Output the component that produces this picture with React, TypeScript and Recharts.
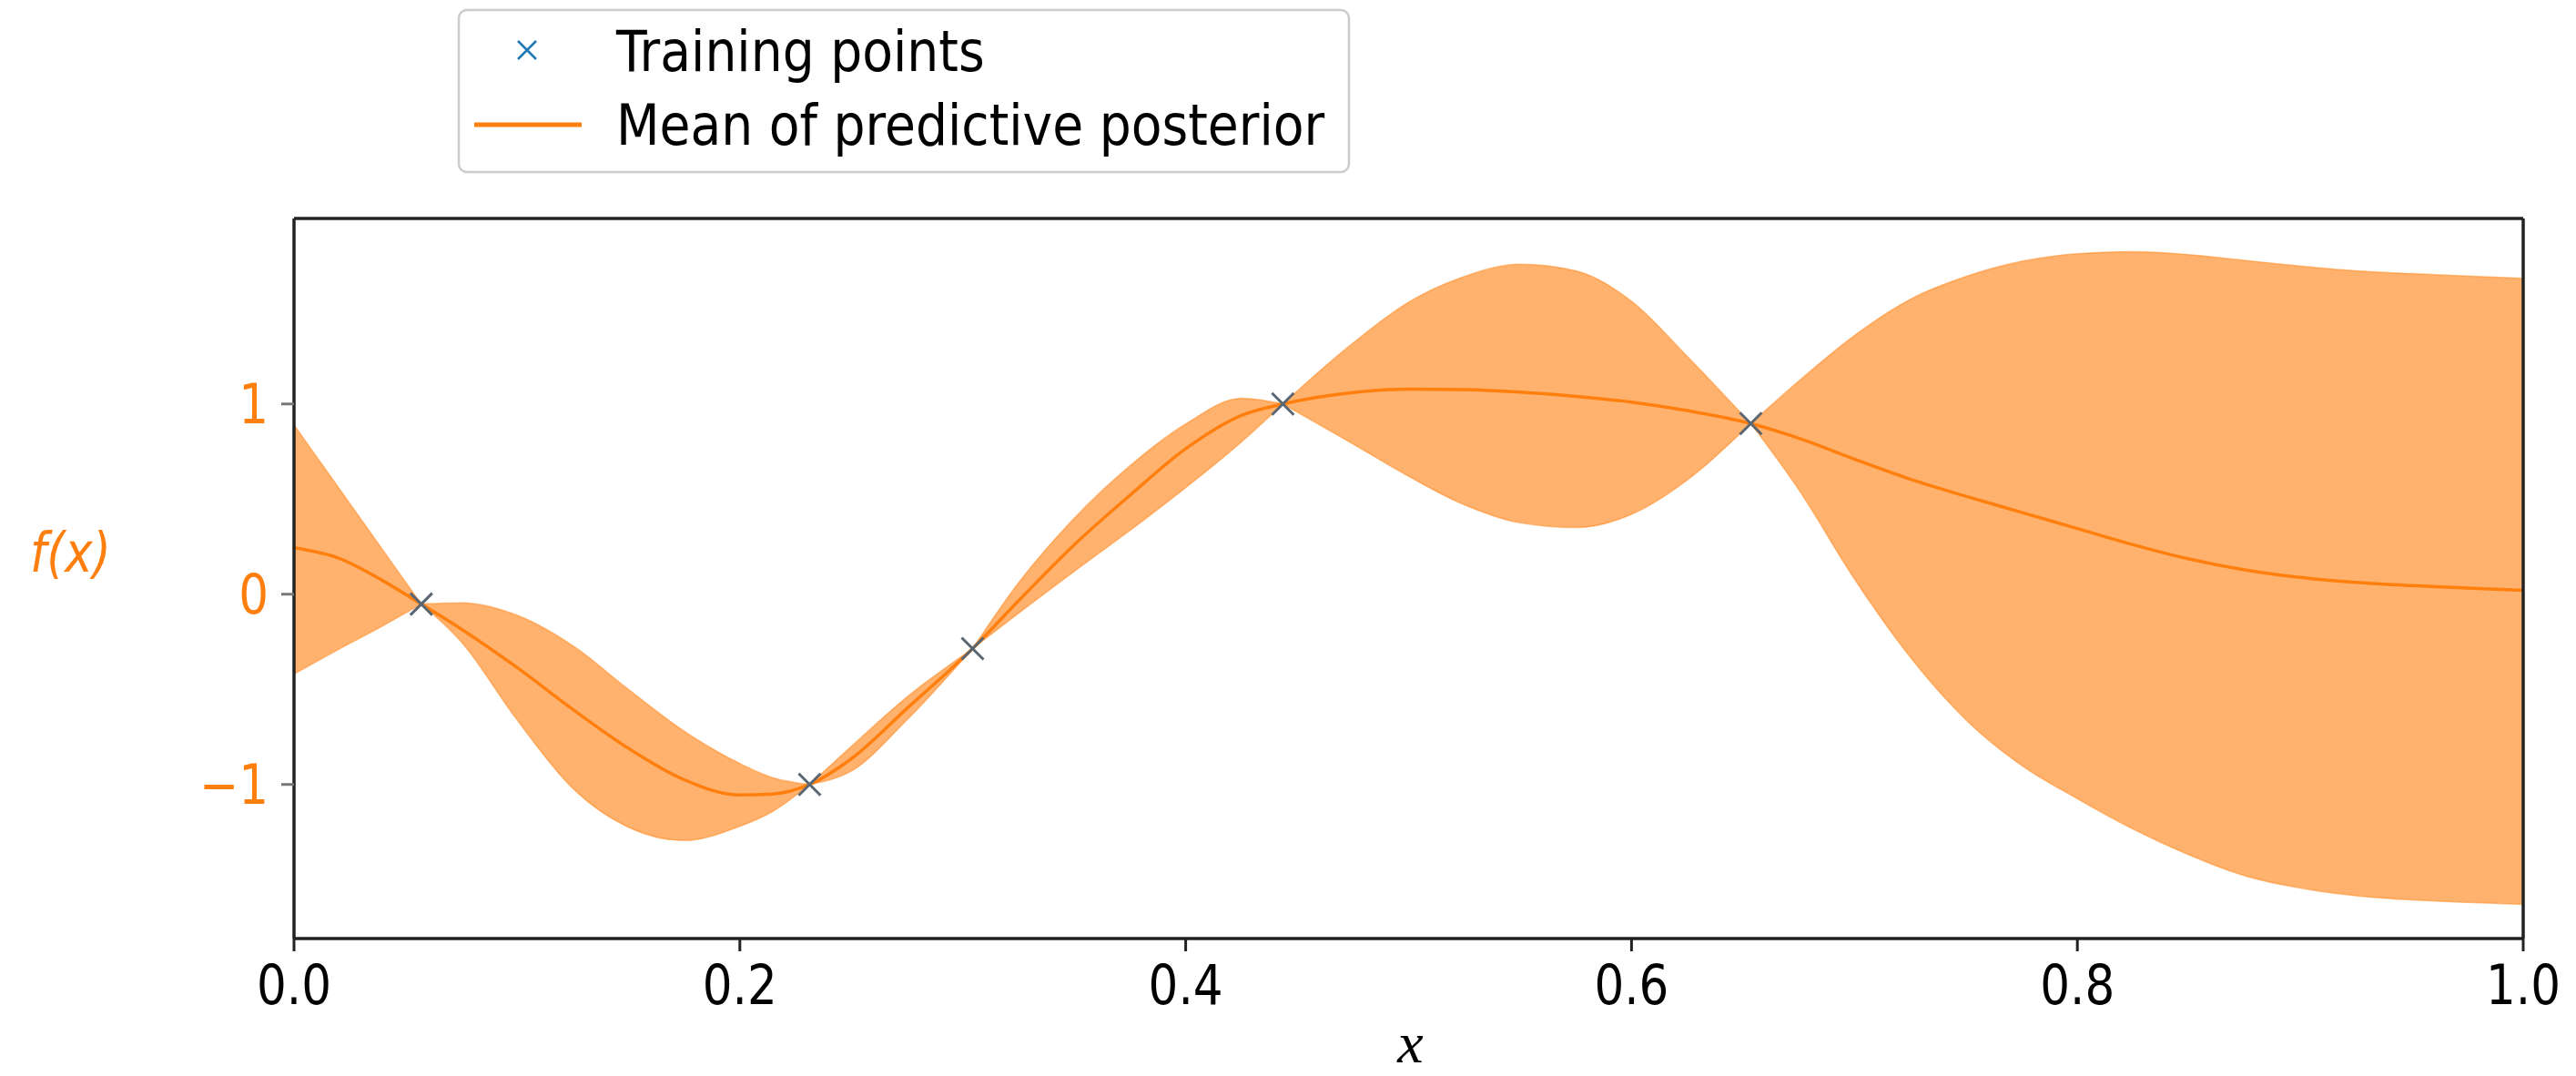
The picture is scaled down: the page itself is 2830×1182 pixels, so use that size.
import React from "react";
import { Area, ComposedChart, Legend, Line, ReferenceLine, Scatter, XAxis, YAxis } from "recharts";

// sample positions along x (training inputs included so the band pinches there)
const xs = [
  0, 0.02, 0.04, 0.0571, 0.075, 0.1, 0.125, 0.15, 0.175, 0.2, 0.215, 0.2313, 0.25, 0.275, 0.3044,
  0.325, 0.35, 0.375, 0.4, 0.425, 0.4436, 0.475, 0.5, 0.525, 0.55, 0.575, 0.6, 0.625, 0.6535,
  0.675, 0.7, 0.725, 0.75, 0.775, 0.8, 0.825, 0.85, 0.875, 0.9, 0.925, 0.95, 0.975, 1.0,
];
const meanVals = [
  0.244, 0.19, 0.07, -0.052, -0.183, -0.385, -0.605, -0.81, -0.975, -1.055, -1.05, -1.0, -0.865, -0.6, -0.286,
  -0.035, 0.26, 0.52, 0.765, 0.94, 1.0, 1.06, 1.078, 1.075, 1.062, 1.04, 1.01, 0.965, 0.897,
  0.82, 0.71, 0.605, 0.515, 0.43, 0.345, 0.26, 0.185, 0.128, 0.088, 0.062, 0.045, 0.032, 0.02,
];
const lowerVals = [
  -0.42, -0.29, -0.165, -0.052, -0.25, -0.66, -1.02, -1.225, -1.295, -1.22, -1.14, -1.0, -0.93, -0.66, -0.286,
  -0.1, 0.12, 0.335, 0.56, 0.8, 1.0, 0.79, 0.62, 0.47, 0.375, 0.35, 0.42, 0.6, 0.897,
  0.55, 0.08, -0.33, -0.66, -0.9, -1.075, -1.235, -1.37, -1.48, -1.545, -1.585, -1.607, -1.62, -1.63,
];
const upperVals = [
  0.89, 0.56, 0.23, -0.052, -0.045, -0.11, -0.27, -0.5, -0.72, -0.89, -0.965, -1.0, -0.8, -0.54, -0.286,
  0.06, 0.4, 0.675, 0.895, 1.03, 1.0, 1.32, 1.535, 1.67, 1.735, 1.7, 1.54, 1.25, 0.897,
  1.12, 1.36, 1.55, 1.67, 1.75, 1.79, 1.8, 1.785, 1.755, 1.725, 1.7, 1.685, 1.672, 1.66,
];

const trainX = [0.0571, 0.2313, 0.3044, 0.4436, 0.6535];
const trainY = [-0.052, -1.0, -0.286, 1.0, 0.897];

const xTicks = [0, 0.2, 0.4, 0.6, 0.8, 1.0];
const yTicks = [-1, 0, 1];
const yDomain = [-1.81, 1.975];

const ORANGE = "#ff7f0e";
const BLUE = "#1f77b4";
const FONT = "DejaVu Sans";
const SQUEEZE = 0.86;
const LEGEND_SQUEEZE = 0.89;

// the band is split at every training input (a null row between) so each piece keeps its own kink
const data: any[] = [];
xs.forEach((x, i) => {
  const band = [lowerVals[i], upperVals[i]];
  data.push({ x, mean: meanVals[i], band });
  if (trainX.includes(x)) {
    data.push({ x, band: null });
    data.push({ x, band });
  }
});
const trainData = trainX.map((x, i) => ({ x, y: trainY[i] }));

function XTick({ x, y, payload }: any) {
  return (
    <g transform={`translate(${x},${y}) scale(${SQUEEZE},1)`}>
      <text x={0} y={44} textAnchor="middle" fontFamily={FONT} fontSize={60} fill="#000">
        {Number(payload.value).toFixed(1)}
      </text>
    </g>
  );
}

function YTick({ x, y, payload }: any) {
  const v = Number(payload.value);
  return (
    <g transform={`translate(${x},${y}) scale(${SQUEEZE},1)`}>
      <text x={0} y={21} textAnchor="end" fontFamily={FONT} fontSize={60} fill={ORANGE}>
        {v < 0 ? `\u2212${Math.abs(v)}` : String(v)}
      </text>
    </g>
  );
}

function YLabel({ viewBox }: any) {
  const vb = viewBox || { x: 0, y: 240, height: 791 };
  return (
    <g transform={`translate(${vb.x + 33},${vb.y + vb.height / 2 - 8}) scale(${SQUEEZE},1)`}>
      <text x={0} y={0} fontFamily={FONT} fontStyle="italic" fontSize={60} fill={ORANGE}>
        f(x)
      </text>
    </g>
  );
}

function XLabel({ viewBox }: any) {
  const vb = viewBox || { x: 323, y: 1031, width: 2449 };
  return (
    <text
      x={vb.x + vb.width / 2 + 2}
      y={vb.y + 136}
      textAnchor="middle"
      fontFamily="Liberation Serif"
      fontStyle="italic"
      fontSize={64}
      fill="#000"
    >
      x
    </text>
  );
}

function Cross({ cx, cy }: any) {
  const r = 12;
  return (
    <path
      d={`M${cx - r},${cy - r}L${cx + r},${cy + r}M${cx - r},${cy + r}L${cx + r},${cy - r}`}
      stroke="#5b6673"
      strokeWidth={3}
      fill="none"
    />
  );
}

function LegendBox() {
  return (
    <svg width={984} height={184} style={{ display: "block" }}>
      <rect x={2} y={2} width={978} height={178} rx={9} fill="#fff" stroke="#cccccc" strokeWidth={2.5} />
      <path d="M67,36L87,56M67,56L87,36" stroke={BLUE} strokeWidth={2.5} />
      <line x1={19} x2={137} y1={128} y2={128} stroke={ORANGE} strokeWidth={5} />
      <g transform={`translate(175,69) scale(${LEGEND_SQUEEZE},1)`}>
        <text fontFamily={FONT} fontSize={62} fill="#000">Training points</text>
      </g>
      <g transform={`translate(175,150) scale(${LEGEND_SQUEEZE},1)`}>
        <text fontFamily={FONT} fontSize={62} fill="#000">Mean of predictive posterior</text>
      </g>
    </svg>
  );
}

export default function App() {
  return (
    <div style={{ position: "absolute", left: 0, top: 0, width: 2830, height: 1182, background: "#fff" }}>
      <ComposedChart
        width={2830}
        height={1182}
        data={data}
        margin={{ top: 240, right: 58, bottom: 0, left: 0 }}
      >
        <XAxis
          dataKey="x"
          type="number"
          domain={[0, 1]}
          ticks={xTicks}
          allowDataOverflow
          height={151}
          tickSize={14}
          tickMargin={14}
          tick={<XTick />}
          tickLine={{ stroke: "#222", strokeWidth: 3 }}
          axisLine={{ stroke: "#222", strokeWidth: 3.5 }}
          label={<XLabel />}
        />
        <YAxis
          type="number"
          domain={yDomain}
          ticks={yTicks}
          allowDataOverflow
          width={323}
          tickSize={14}
          tickMargin={14}
          tick={<YTick />}
          tickLine={{ stroke: "#777", strokeWidth: 3 }}
          axisLine={{ stroke: "#222", strokeWidth: 3.5 }}
          label={<YLabel />}
        />
        <Scatter data={trainData} dataKey="y" shape={<Cross />} isAnimationActive={false} />
        <Area
          dataKey="band"
          type="monotone"
          fill={ORANGE}
          fillOpacity={0.6}
          stroke={ORANGE}
          strokeOpacity={0.45}
          strokeWidth={1.5}
          activeDot={false}
          isAnimationActive={false}
        />
        <Line
          dataKey="mean"
          type="monotone"
          connectNulls
          stroke={ORANGE}
          strokeWidth={3.5}
          dot={false}
          activeDot={false}
          isAnimationActive={false}
        />
        <ReferenceLine y={yDomain[1]} stroke="#222" strokeWidth={3.5} />
        <ReferenceLine x={1} stroke="#222" strokeWidth={3.5} />
        <Legend
          layout="horizontal"
          align="center"
          verticalAlign="middle"
          content={() => <LegendBox />}
          wrapperStyle={{ position: "absolute", left: 502, top: 9, width: 984, height: 184 }}
        />
      </ComposedChart>
    </div>
  );
}
